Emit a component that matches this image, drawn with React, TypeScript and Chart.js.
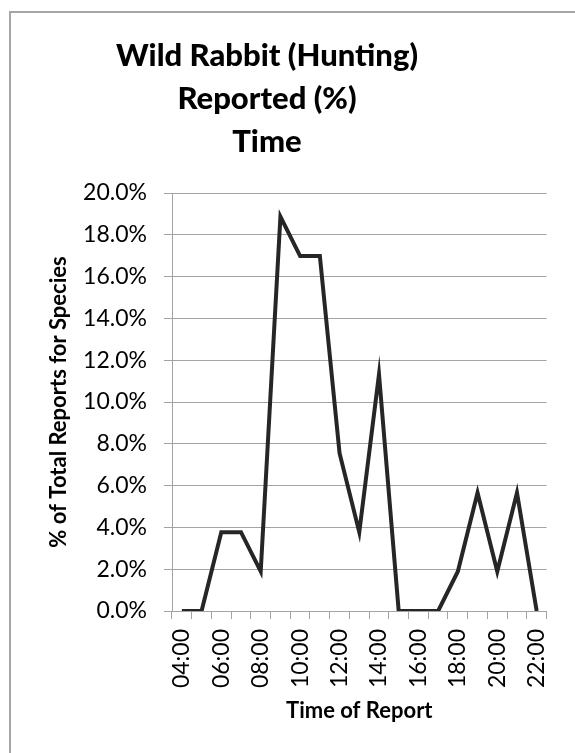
import React, { useEffect, useRef } from "react";
import { Chart, registerables } from "chart.js";

Chart.register(...registerables);

const titleLines = ["Wild Rabbit (Hunting)", "Reported (%)", "Time"];
const hours = [
  "04:00", "05:00", "06:00", "07:00", "08:00", "09:00", "10:00", "11:00", "12:00", "13:00",
  "14:00", "15:00", "16:00", "17:00", "18:00", "19:00", "20:00", "21:00", "22:00",
];
const percentReported = [
  0, 0, 3.77, 3.77, 1.89, 18.87, 16.98, 16.98, 7.55, 3.77,
  11.32, 0, 0, 0, 1.89, 5.66, 1.89, 5.66, 0,
];
const yTitle = "% of Total Reports for Species";
const xTitle = "Time of Report";

const FONT = "Lato, 'Open Sans', sans-serif";
const GRID = "#a3a3a3";

const titlePlugin = {
  id: "multiTitle",
  afterDraw(chart: any) {
    const ctx = chart.ctx;
    ctx.save();
    ctx.fillStyle = "#000";
    ctx.font = `900 31px ${FONT}`;
    ctx.textAlign = "center";
    ctx.textBaseline = "alphabetic";
    const baselines = [66, 109, 152];
    titleLines.forEach((t, i) => ctx.fillText(t, 267, baselines[i]));
    ctx.restore();
  },
};

export default function App() {
  const ref = useRef<HTMLCanvasElement | null>(null);
  useEffect(() => {
    if (!ref.current) return;
    const chart = new Chart(ref.current, {
      type: "line",
      data: {
        labels: hours,
        datasets: [
          {
            data: percentReported,
            borderColor: "#262626",
            borderWidth: 4,
            pointRadius: 0,
            tension: 0,
            fill: false,
          },
        ],
      },
      plugins: [titlePlugin],
      options: {
        responsive: false,
        animation: false,
        layout: { padding: { top: 193, left: 46, right: 27, bottom: 20 } },
        plugins: { legend: { display: false }, tooltip: { enabled: false }, title: { display: false } },
        scales: {
          x: {
            type: "category",
            offset: true,
            afterFit: (s: any) => {
              s.height = 753 - 611 - 20;
            },
            grid: {
              offset: true,
              drawOnChartArea: false,
              drawTicks: true,
              tickLength: 8,
              color: GRID,
            },
            border: { display: true, color: GRID, width: 1 },
            ticks: {
              autoSkip: false,
              minRotation: 90,
              maxRotation: 90,
              padding: 10,
              color: "#000",
              font: { family: FONT, size: 23 },
              callback: (_v: any, i: number) => (i % 2 === 0 ? hours[i] : ""),
            },
            title: {
              display: true,
              text: xTitle,
              color: "#000",
              font: { family: FONT, size: 22, weight: "bold" },
              padding: { top: 0, bottom: 9 },
            },
          },
          y: {
            min: 0,
            max: 20,
            afterFit: (s: any) => {
              s.width = 172 - 46;
            },
            grid: { color: GRID, tickLength: 8, drawTicks: true },
            border: { display: true, color: GRID, width: 1 },
            ticks: {
              stepSize: 2,
              padding: 17,
              color: "#000",
              font: { family: FONT, size: 23 },
              callback: (v: any) => Number(v).toFixed(1) + "%",
            },
            title: {
              display: true,
              text: yTitle,
              color: "#000",
              font: { family: FONT, size: 22, weight: "bold" },
              padding: { top: 0, bottom: 0 },
            },
          },
        },
      },
    });
    return () => chart.destroy();
  }, []);

  return (
    <div
      style={{
        position: "fixed",
        left: 0,
        top: 0,
        width: 575,
        height: 753,
        overflow: "hidden",
        background: "#fff",
      }}
    >
      <div
        style={{
          position: "absolute",
          left: 9,
          top: 11,
          width: 700,
          height: 900,
          border: "2px solid #a6a6a6",
        }}
      />
      <canvas ref={ref} width={575} height={753} style={{ position: "absolute", left: 0, top: 0 }} />
    </div>
  );
}
